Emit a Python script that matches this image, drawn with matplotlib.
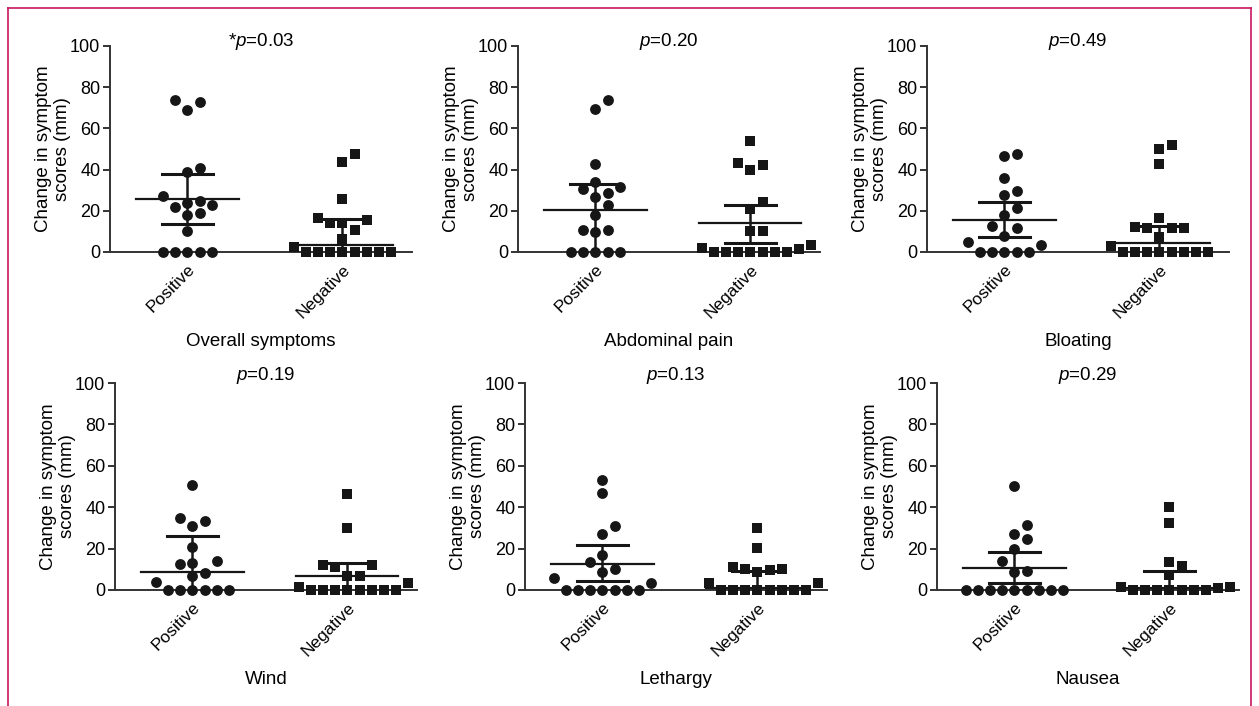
import numpy as np
import matplotlib
matplotlib.use("Agg")
import matplotlib.pyplot as plt
from matplotlib.lines import Line2D

plt.rcParams['font.family'] = ['Liberation Sans', 'DejaVu Sans']
plt.rcParams['mathtext.fontset'] = 'custom'
plt.rcParams['mathtext.rm'] = 'Liberation Sans'
plt.rcParams['mathtext.it'] = 'Liberation Sans:italic'

# ---- data (mm) ----
panel_names = ["Overall symptoms", "Abdominal pain", "Bloating", "Wind", "Lethargy", "Nausea"]
p_texts = ["*$p$=0.03", "$p$=0.20", "$p$=0.49", "$p$=0.19", "$p$=0.13", "$p$=0.29"]
groups = ["Positive", "Negative"]

overall_pos = [74, 73, 69, 41, 39, 27, 25, 24, 23, 22, 19, 18, 10, 0, 0, 0, 0, 0]
overall_neg = [47.5, 43.5, 25.5, 16.3, 15.5, 14, 14, 10.6, 6.5, 2.6, 0, 0, 0, 0, 0, 0, 0, 0]
abdo_pos = [73.6, 69.6, 42.7, 33.9, 31.7, 30.4, 28.8, 26.9, 22.9, 17.9, 10.7, 10.7, 9.9, 0, 0, 0, 0, 0]
abdo_neg = [53.8, 43, 42, 40, 24.3, 21, 10, 10, 3.5, 1.9, 1.5, 0, 0, 0, 0, 0, 0, 0]
bloat_pos = [47.7, 46.7, 35.7, 29.6, 27.7, 21.6, 17.9, 12.8, 11.7, 7.7, 4.8, 3.2, 0, 0, 0, 0, 0]
bloat_neg = [52, 49.9, 42.9, 16.3, 12.3, 11.5, 11.5, 11.5, 7.2, 2.9, 0, 0, 0, 0, 0, 0, 0, 0]
wind_pos = [50.8, 35, 33.4, 31.1, 21, 14, 12.9, 12.4, 8.4, 6.8, 4, 0, 0, 0, 0, 0, 0]
wind_neg = [46.5, 29.8, 12.1, 12.1, 11, 6.8, 6.8, 3.2, 1.6, 0, 0, 0, 0, 0, 0, 0, 0]
leth_pos = [52.9, 46.8, 31, 27, 16.9, 13.7, 10.2, 8.9, 5.6, 3.5, 0, 0, 0, 0, 0, 0, 0]
leth_neg = [29.8, 20.2, 11.3, 10, 10, 9.7, 8.9, 3.2, 3.2, 0, 0, 0, 0, 0, 0, 0, 0]
naus_pos = [50.4, 31.2, 27.2, 24.7, 19.8, 13.8, 9.4, 8.9, 0, 0, 0, 0, 0, 0, 0, 0, 0]
naus_neg = [40, 32.3, 13.7, 11.6, 7.3, 1.6, 1.4, 1.2, 0, 0, 0, 0, 0, 0, 0]

pos_values = [overall_pos, abdo_pos, bloat_pos, wind_pos, leth_pos, naus_pos]
neg_values = [overall_neg, abdo_neg, bloat_neg, wind_neg, leth_neg, naus_neg]

# median, lower, upper bars
pos_mid = [25.5, 20.3, 15.7, 8.5, 12.6, 10.6]
pos_low = [13.4, 0, 7.2, 0, 4.5, 3.3]
pos_high = [37.9, 32.8, 24.3, 26.1, 21.5, 18.4]
neg_mid = [3.5, 13.9, 4.5, 6.9, 1.2, 0.8]
neg_low = [0, 4.6, 0, 0, 0, 0]
neg_high = [15.8, 23, 12.8, 13.2, 9.4, 9.2]

W, H = 1259, 706
fig = plt.figure(figsize=(W / 100, H / 100), dpi=100)

# magenta frame
col_frame = '#c8175d'
for xs, ys in [([8, 8], [8, 706]), ([8, 1251], [8, 8]), ([1251, 1251], [8, 706])]:
    fig.add_artist(Line2D([x / W for x in xs], [1 - y / H for y in ys], color=col_frame, lw=1.2))

ink = '#161616'
axw = 302
lefts = [110, 518, 927, 115, 525, 937]
bottoms = [252, 252, 252, 590, 590, 590]
tops = [46, 46, 46, 383, 383, 383]
diam = 12.2  # marker spacing in px


def swarm(ax, values):
    x0, y0 = ax.transData.transform((0, 0))
    x1, y1 = ax.transData.transform((1, 1))
    sx, sy = x1 - x0, y1 - y0
    placed = []
    offs = np.zeros(len(values))
    ks = [0]
    for k in range(1, 12):
        ks += [k, -k]
    for i in np.argsort(values, kind='stable'):
        y = values[i] * sy
        for k in ks:
            x = k * diam
            if all((x - px) ** 2 + (y - py) ** 2 >= (diam * 0.97) ** 2 for px, py in placed):
                break
        placed.append((x, y))
        offs[i] = x / sx
    return offs


for i in range(6):
    l, b, t = lefts[i], bottoms[i], tops[i]
    ax = fig.add_axes([l / W, 1 - b / H, axw / W, (b - t) / H])
    ax.set_xlim(-0.5, 1.45)
    ax.set_ylim(0, 100)
    for s in ['top', 'right']:
        ax.spines[s].set_visible(False)
    for s in ['left', 'bottom']:
        ax.spines[s].set_linewidth(1.4)
        ax.spines[s].set_color('#333333')
    ax.set_yticks([0, 20, 40, 60, 80, 100])
    ax.set_xticks([0, 1])
    ax.set_xticklabels(groups, rotation=45, ha='right', rotation_mode='anchor', fontsize=12.5)
    ax.tick_params(axis='y', labelsize=13, length=5, width=1.4, color='#333333', pad=2)
    ax.tick_params(axis='x', length=3, width=1.2, color='#333333', pad=4)

    for xc, vals, mk, ms, mid, lo, hi in [
        (0, pos_values[i], 'o', 7.8, pos_mid[i], pos_low[i], pos_high[i]),
        (1, neg_values[i], 's', 6.8, neg_mid[i], neg_low[i], neg_high[i]),
    ]:
        vals = np.array(vals, dtype=float)
        xo = swarm(ax, vals)
        ax.plot(xc + xo, vals, mk, ms=ms, color=ink, mew=0, clip_on=False, zorder=3)
        ax.plot([xc, xc], [lo, hi], color=ink, lw=1.8, zorder=4, solid_capstyle='butt')
        ax.plot([xc - 0.165, xc + 0.165], [hi, hi], color=ink, lw=2.2, zorder=4)
        if lo > 0:
            ax.plot([xc - 0.165, xc + 0.165], [lo, lo], color=ink, lw=2.2, zorder=4)
        ax.plot([xc - 0.33, xc + 0.33], [mid, mid], color=ink, lw=1.6, zorder=4, clip_on=False)

    hpx = b - t
    p_off = 5 if i < 3 else 8
    ax.text(0.5, 1 + p_off / hpx, p_texts[i], transform=ax.transAxes, ha='center', va='center', fontsize=13.5)
    ax.text(0.5, -89 / hpx, panel_names[i], transform=ax.transAxes, ha='center', va='center', fontsize=13.5)
    ax.text(-57 / axw, 0.5, "Change in symptom\nscores (mm)", transform=ax.transAxes, rotation=90,
            ha='center', va='center', fontsize=13.5, linespacing=1.1)

fig.savefig("out.png", dpi=100)
